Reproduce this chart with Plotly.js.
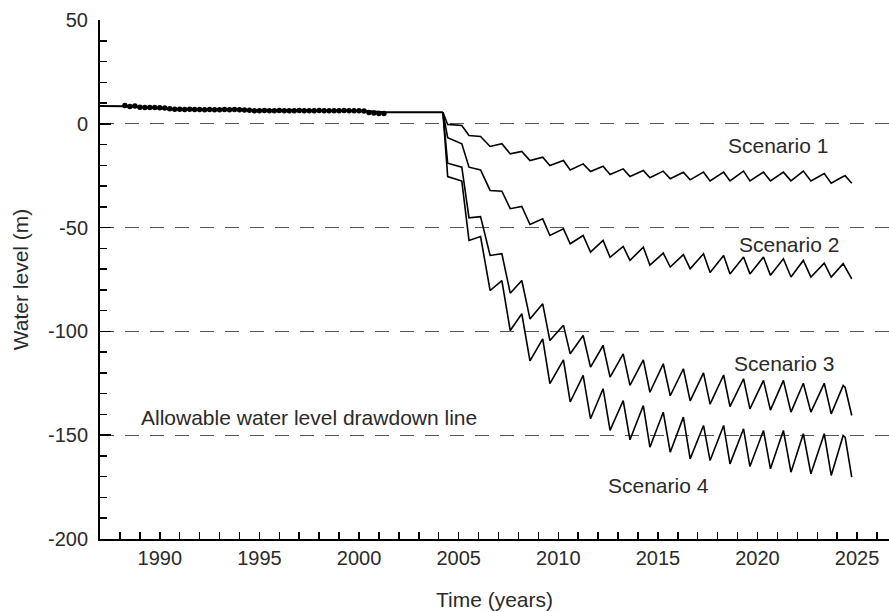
<!DOCTYPE html>
<html>
<head>
<meta charset="utf-8">
<script src="https://cdn.plot.ly/plotly-3.0.1.min.js"></script>
<style>html,body{margin:0;padding:0;background:#fff;overflow:hidden}</style>
</head>
<body>
<div id="chart" style="width:889px;height:612px"></div>
<script>
// Historical simulated line
const histYears = [1987.0, 1988.3, 1990.5, 1994.5, 2000.4, 2001.3, 2004.21];
const histLevel = [8.6, 8.5, 7.3, 6.7, 6.2, 5.6, 5.6];

// Observed (dots)
const obsYears = [1988.25, 1988.5, 1988.75, 1989.0, 1989.25, 1989.5, 1989.75, 1990.0, 1990.25, 1990.5, 1990.75,
  1991.0, 1991.25, 1991.5, 1991.75, 1992.0, 1992.25, 1992.5, 1992.75, 1993.0, 1993.25, 1993.5, 1993.75,
  1994.0, 1994.25, 1994.5, 1994.75, 1995.0, 1995.25, 1995.5, 1995.75, 1996.0, 1996.25, 1996.5, 1996.75,
  1997.0, 1997.25, 1997.5, 1997.75, 1998.0, 1998.25, 1998.5, 1998.75, 1999.0, 1999.25, 1999.5, 1999.75,
  2000.0, 2000.25, 2000.5, 2000.75, 2001.0, 2001.25];
const obsLevel = [8.8, 8.3, 8.6, 8.0, 7.9, 7.8, 7.8, 7.7, 7.6, 7.2, 7.0,
  7.0, 6.9, 7.0, 6.9, 6.9, 6.8, 6.9, 6.8, 6.8, 6.9, 6.8, 6.9,
  6.8, 6.7, 6.5, 6.3, 6.3, 6.4, 6.3, 6.3, 6.4, 6.3, 6.3, 6.3,
  6.4, 6.3, 6.3, 6.3, 6.4, 6.3, 6.3, 6.3, 6.3, 6.4, 6.3, 6.3,
  6.3, 6.2, 5.4, 5.2, 5.0, 5.0];

// Scenario simulations
const simYears = [2004.21, 2004.45, 2005.16, 2005.52, 2006.1, 2006.58, 2007.17, 2007.59, 2008.17, 2008.58,
  2009.22, 2009.58, 2010.26, 2010.6, 2011.25, 2011.62, 2012.25, 2012.6, 2013.26, 2013.6,
  2014.27, 2014.6, 2015.27, 2015.62, 2016.28, 2016.62, 2017.29, 2017.62, 2018.3, 2018.62,
  2019.3, 2019.62, 2020.3, 2020.65, 2021.3, 2021.68, 2022.3, 2022.68, 2023.35, 2023.7,
  2024.3, 2024.4, 2024.73];
const scenario1 = [5.6, -0.3, -0.8, -5.6, -6.1, -10.9, -9.6, -14.5, -13.3, -17.7,
  -16.1, -20.1, -17.7, -22.2, -19.3, -23, -20.4, -24.4, -21.7, -25.4,
  -22.5, -26, -22.8, -26.5, -23.3, -27, -23.3, -27.5, -23.3, -27.5,
  -22.8, -27.5, -23.3, -27.5, -23.3, -27.5, -22.8, -27.5, -24, -28.6,
  -25.4, -25, -28.6];
const scenario2 = [5.6, -6.7, -9.6, -20.9, -22.2, -32.1, -32.5, -40.9, -39.8, -48.5,
  -45.8, -53.8, -50.6, -57.8, -53.8, -61.8, -56.2, -64.3, -59.1, -65.8,
  -59.4, -68.1, -62.3, -69, -63, -69.8, -62.6, -71.6, -63.4, -72.3,
  -64.2, -72.3, -64.2, -73, -65, -73.8, -65.8, -73.8, -67.1, -73.8,
  -67.4, -69, -74.7];
const scenario3 = [5.6, -19, -20.9, -45.3, -44.7, -63.4, -62.6, -81.6, -75.5, -94,
  -86.7, -104.4, -97, -110.8, -102, -117.2, -106.8, -122, -110.8, -126,
  -113.7, -129.3, -115.6, -131, -118, -133.5, -120, -135, -121, -136.2,
  -122.8, -137.3, -123.6, -137.9, -123.6, -138.9, -125, -138.9, -125, -139.7,
  -126, -127, -140.5];
const scenario4 = [5.6, -25.4, -27.6, -56.2, -54.3, -80.3, -75.5, -99.6, -91.5, -114.2,
  -103.6, -125.2, -113.7, -134, -121.2, -142.1, -127.6, -147.7, -133.3, -152.2,
  -135.7, -155.8, -138.9, -158.2, -141.3, -161.4, -145.3, -162.2, -145.3, -163.8,
  -146.9, -165.1, -147.7, -166.2, -147.7, -167.8, -149.3, -168.6, -149.3, -169.4,
  -150.1, -151, -170.2];

const scenarioNames = ["Scenario 1", "Scenario 2", "Scenario 3", "Scenario 4"];
const labelYears = [2021.03, 2021.6, 2021.33, 2015.03];
const labelLevels = [-10.5, -58.1, -115.6, -174.2];
const limitLabel = "Allowable water level drawdown line";

const yTickVals = [-200, -150, -100, -50, 0, 50];
const yTickText = ["-200", "-150", "-100", "-50", "0", "50"];
const xTickVals = [1990, 1995, 2000, 2005, 2010, 2015, 2020, 2025];
const xTickText = ["1990", "1995", "2000", "2005", "2010", "2015", "2020", "2025"];

const FONT = "Liberation Sans, Arial, sans-serif";
const TXT = "#2a2a2a";
const FS = 21;
const lineStyle = {color: "#000", width: 1.6};

const traces = [
  {x: histYears, y: histLevel, mode: "lines", line: {color: "#000", width: 2}, hoverinfo: "skip"},
  {x: obsYears, y: obsLevel, mode: "markers", marker: {color: "#000", size: 5.5}, hoverinfo: "skip"}
];
[scenario1, scenario2, scenario3, scenario4].forEach(s => {
  traces.push({x: simYears, y: s, mode: "lines", line: lineStyle, hoverinfo: "skip"});
});

const annotations = scenarioNames.map((n, i) => ({
  x: labelYears[i], y: labelLevels[i], xref: "x", yref: "y", text: n, showarrow: false,
  font: {family: FONT, size: FS, color: TXT}
}));
annotations.push({x: 1997.47, y: -141.3, xref: "x", yref: "y", text: limitLabel, showarrow: false,
  font: {family: FONT, size: FS, color: TXT}});

const layout = {
  width: 889, height: 612,
  margin: {l: 100, r: 0, t: 20, b: 73},
  paper_bgcolor: "#fff", plot_bgcolor: "#fff",
  showlegend: false,
  font: {family: FONT, size: FS, color: TXT},
  xaxis: {
    range: [1987.0, 2026.6], tickmode: "array", tickvals: xTickVals, ticktext: xTickText,
    ticks: "inside", ticklen: 7, tickwidth: 1.5, tickcolor: "#000",
    minor: {dtick: 1, tick0: 1990, ticks: "inside", ticklen: 7, tickwidth: 1.5, tickcolor: "#000"},
    showline: true, linewidth: 2, linecolor: "#000", showgrid: false, zeroline: false,
    tickfont: {family: FONT, size: 20, color: TXT},
    title: {text: "Time (years)", font: {family: FONT, size: FS, color: TXT}, standoff: 24},
    automargin: false
  },
  yaxis: {
    range: [-200, 50], tickmode: "array", tickvals: yTickVals, ticktext: yTickText,
    ticks: "inside", ticklen: 11, tickwidth: 1.5, tickcolor: "#000",
    minor: {dtick: 10, tick0: 0, ticks: "inside", ticklen: 7, tickwidth: 1.5, tickcolor: "#000"},
    showline: true, linewidth: 2, linecolor: "#000",
    showgrid: true, gridcolor: "#555", gridwidth: 1.3, griddash: "14px,11px",
    zeroline: false, ticklabelstandoff: 6,
    tickfont: {family: FONT, size: 20, color: TXT},
    title: {text: "Water level (m)", font: {family: FONT, size: FS, color: TXT}, standoff: 14},
    automargin: false
  },
  xaxis2: {
    overlaying: "x", side: "top", anchor: "y", range: [0, 789],
    tickmode: "linear", tick0: 0, dtick: 30.68, ticks: "inside", ticklen: 11, tickwidth: 1.5, tickcolor: "#000",
    showticklabels: false, showline: true, linewidth: 2, linecolor: "#000", showgrid: false, zeroline: false
  },
  yaxis2: {
    overlaying: "y", side: "right", anchor: "x", range: [0, 519],
    tickmode: "linear", tick0: -1, dtick: 153.4, ticks: "inside", ticklen: 8, tickwidth: 1.5, tickcolor: "#000",
    minor: {dtick: 30.68, tick0: -1, ticks: "inside", ticklen: 4, tickwidth: 1.5, tickcolor: "#000"},
    showticklabels: false, showline: false, showgrid: false, zeroline: false
  },
  annotations: annotations
};

Plotly.newPlot("chart", traces, layout, {displayModeBar: false, staticPlot: true});
</script>
</body>
</html>
